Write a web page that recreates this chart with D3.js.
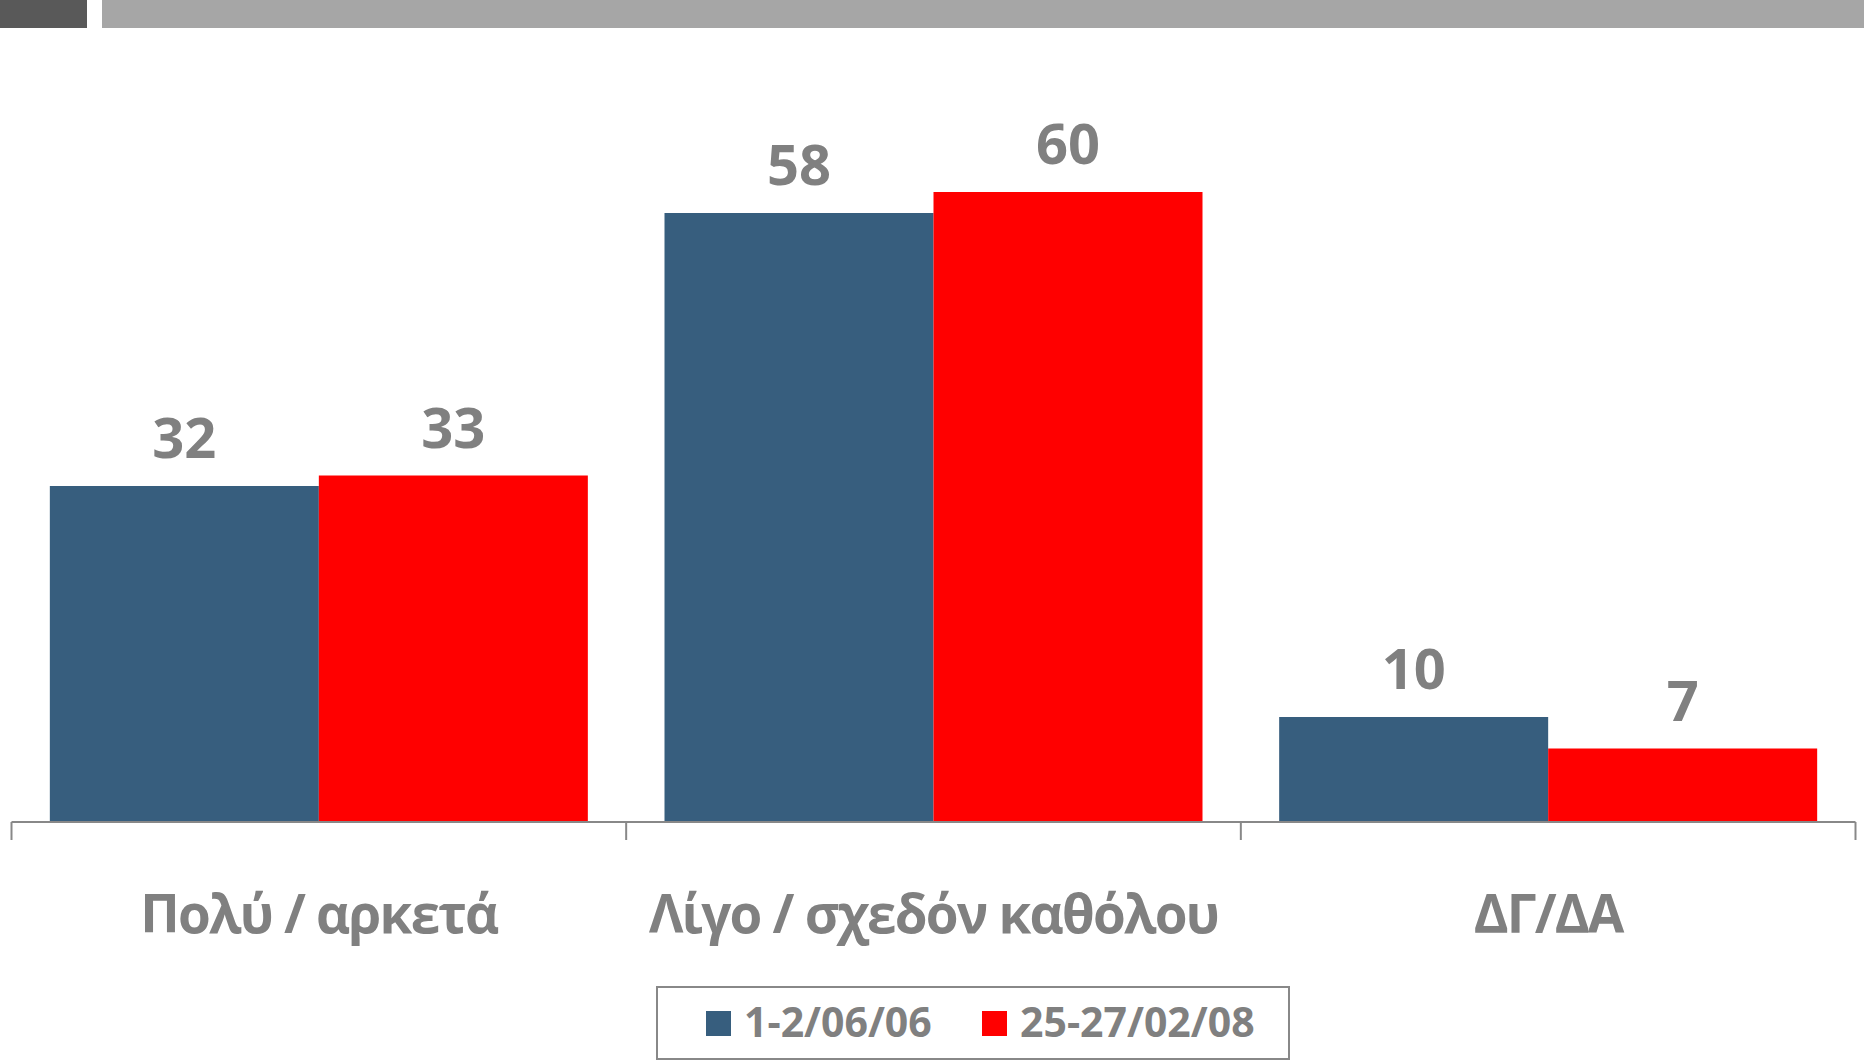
<!DOCTYPE html>
<html>
<head>
<meta charset="utf-8">
<script src="https://cdn.jsdelivr.net/npm/d3@7"></script>
<style>
  html, body { margin: 0; padding: 0; background: #fff; }
  svg { display: block; font-family: "Open Sans", "Noto Sans", sans-serif; }
</style>
</head>
<body>
<div id="chart"></div>
<script>
// Data
const categories = ["Πολύ / αρκετά", "Λίγο / σχεδόν καθόλου", "ΔΓ/ΔΑ"];
const seriesNames = ["1-2/06/06", "25-27/02/08"];
const values2006 = [32, 58, 10];
const values2008 = [33, 60, 7];
const seriesColors = ["#375e7e", "#ff0000"];

const W = 1864, H = 1060;
const textGrey = "#808080";

const svg = d3.select("#chart")
  .append("svg")
    .attr("width", W)
    .attr("height", H);

// header strips
svg.append("rect").attr("x", 0).attr("y", 0).attr("width", 87).attr("height", 28).attr("fill", "#595959");
svg.append("rect").attr("x", 102).attr("y", 0).attr("width", W - 102).attr("height", 28).attr("fill", "#a6a6a6");

// Scales
const x0 = d3.scaleBand()
  .domain(categories)
  .range([11.5, 1855.5])
  .padding(0);

const x1 = d3.scaleBand()
  .domain(seriesNames)
  .range([0, x0.bandwidth()])
  .paddingInner(0)
  .paddingOuter(0.1425);

const y = d3.scaleLinear()
  .domain([0, 60])
  .range([822, 192]);

const rows = categories.map((c, i) => ({
  category: c,
  vals: [
    {name: seriesNames[0], value: values2006[i], color: seriesColors[0]},
    {name: seriesNames[1], value: values2008[i], color: seriesColors[1]}
  ]
}));

const groups = svg.selectAll("g.group")
  .data(rows)
  .enter()
  .append("g")
    .attr("class", "group")
    .attr("transform", d => "translate(" + x0(d.category) + ",0)");

groups.selectAll("rect")
  .data(d => d.vals)
  .enter()
  .append("rect")
    .attr("x", d => x1(d.name))
    .attr("y", d => y(d.value))
    .attr("width", x1.bandwidth())
    .attr("height", d => y(0) - y(d.value))
    .attr("fill", d => d.color);

groups.selectAll("text.val")
  .data(d => d.vals)
  .enter()
  .append("text")
    .attr("class", "val")
    .attr("x", d => x1(d.name) + x1.bandwidth() / 2)
    .attr("y", d => y(d.value) - 28)
    .attr("text-anchor", "middle")
    .attr("fill", textGrey)
    .style("font-weight", "bold")
    .style("font-size", "56px")
    .text(d => d.value);

// X axis: baseline + boundary ticks
const axisColor = "#888888";
const [r0, r1] = x0.range();
svg.append("line")
  .attr("x1", r0).attr("x2", r1)
  .attr("y1", y(0)).attr("y2", y(0))
  .attr("stroke", axisColor).attr("stroke-width", 2);

const boundaries = categories.map(c => x0(c)).concat([r1]);
svg.selectAll("line.tick")
  .data(boundaries)
  .enter()
  .append("line")
    .attr("class", "tick")
    .attr("x1", d => d).attr("x2", d => d)
    .attr("y1", y(0)).attr("y2", y(0) + 18)
    .attr("stroke", axisColor).attr("stroke-width", 2);

svg.selectAll("text.cat")
  .data(categories)
  .enter()
  .append("text")
    .attr("class", "cat")
    .attr("x", d => x0(d) + x0.bandwidth() / 2)
    .attr("y", 933)
    .attr("text-anchor", "middle")
    .attr("fill", textGrey)
    .style("font-weight", "bold")
    .style("font-size", "53px")
    .style("letter-spacing", "-1.8px")
    .text(d => d);

// Legend
const legend = svg.append("g");
legend.append("rect")
  .attr("x", 657).attr("y", 987)
  .attr("width", 632).attr("height", 72)
  .attr("fill", "none")
  .attr("stroke", axisColor)
  .attr("stroke-width", 2);

const legendX = [706, 982];
seriesNames.forEach((s, i) => {
  legend.append("rect")
    .attr("x", legendX[i]).attr("y", 1011)
    .attr("width", 25).attr("height", 25)
    .attr("fill", seriesColors[i]);
  legend.append("text")
    .attr("x", legendX[i] + 38)
    .attr("y", 1037)
    .attr("fill", textGrey)
    .style("font-weight", "bold")
    .style("font-size", "41px")
    .text(s);
});
</script>
</body>
</html>
